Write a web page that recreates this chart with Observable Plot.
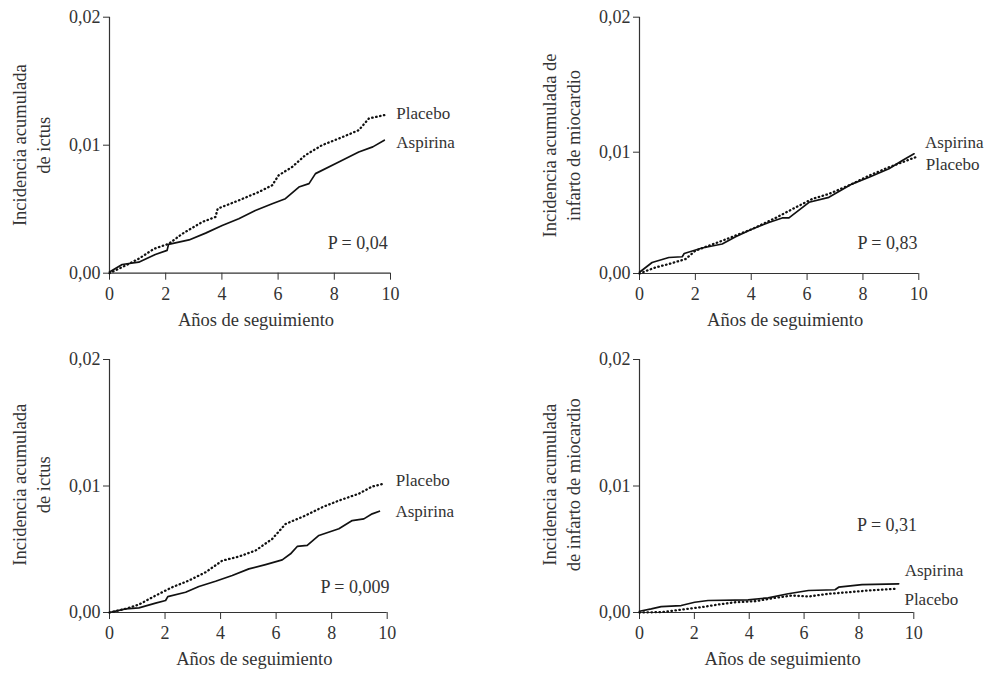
<!DOCTYPE html>
<html>
<head>
<meta charset="utf-8">
<script src="https://cdn.jsdelivr.net/npm/d3@7"></script>
<script src="https://cdn.jsdelivr.net/npm/@observablehq/plot@0.6"></script>
<style>
  html, body { margin: 0; padding: 0; background: #fff; }
  #wrap { position: relative; width: 984px; height: 674px; overflow: hidden; background: #fff; }
  #wrap > svg { position: absolute; }
</style>
</head>
<body>
<div id="wrap"></div>
<script>
// ---------- Data ----------
const xTicks = [0, 2, 4, 6, 8, 10];
const yTicks = [0, 0.01, 0.02];
const seriesNames = ["Aspirina", "Placebo"];
const xTitle = "Años de seguimiento";

// Panel 1: ictus (top-left)
const p1Title = "Incidencia acumulada\nde ictus";
const p1AspYears = [0, 0.45, 1.04, 1.63, 2.05, 2.1, 2.83, 3.42, 4.01, 4.6, 5.19, 5.79, 6.26, 6.74, 7.1, 7.33, 8.16, 8.87, 9.37, 9.78];
const p1AspInc   = [0.0001, 0.00068, 0.00086, 0.00146, 0.00178, 0.00225, 0.0026, 0.00313, 0.00373, 0.00426, 0.0049, 0.00543, 0.00582, 0.00673, 0.007, 0.00778, 0.00869, 0.00947, 0.00987, 0.01039];
const p1PlaYears = [0, 0.57, 1.04, 1.58, 2.11, 2.59, 3.3, 3.77, 3.85, 4.6, 5.31, 5.79, 6.02, 6.5, 6.97, 7.56, 8.16, 8.87, 9.23, 9.78];
const p1PlaInc   = [0, 0.0006, 0.00113, 0.0019, 0.0023, 0.00308, 0.004, 0.00439, 0.00504, 0.00569, 0.00634, 0.00687, 0.00765, 0.0083, 0.00922, 0.01, 0.01052, 0.01117, 0.01209, 0.01235];
const p1P = "P = 0,04";

// Panel 2: infarto de miocardio (top-right)
const p2Title = "Incidencia acumulada de\ninfarto de miocardio";
const p2AspYears = [0, 0.45, 1.05, 1.53, 1.6, 2.24, 2.96, 3.44, 4.04, 4.63, 5.11, 5.35, 6.07, 6.78, 7.62, 8.22, 8.93, 9.41, 9.83];
const p2AspInc   = [0.0001, 0.00091, 0.00132, 0.00138, 0.00165, 0.0021, 0.00243, 0.00303, 0.00367, 0.00421, 0.00458, 0.00458, 0.00587, 0.00628, 0.00739, 0.00793, 0.00863, 0.00931, 0.00987];
const p2PlaYears = [0, 0.57, 1.05, 1.65, 2.0, 2.96, 4.04, 4.87, 5.59, 6.19, 6.78, 7.62, 8.22, 8.93, 9.41, 9.89];
const p2PlaInc   = [0, 0.0005, 0.00078, 0.00119, 0.00188, 0.0027, 0.00367, 0.00458, 0.00545, 0.00615, 0.00656, 0.00739, 0.00807, 0.00876, 0.00917, 0.00959];
const p2P = "P = 0,83";

// Panel 3: ictus (bottom-left)
const p3Title = "Incidencia acumulada\nde ictus";
const p3AspYears = [0, 0.58, 1.06, 1.66, 2.02, 2.1, 2.74, 3.22, 3.82, 4.42, 5.02, 5.62, 6.22, 6.52, 6.76, 7.12, 7.54, 8.26, 8.74, 9.16, 9.46, 9.72];
const p3AspInc   = [0, 0.00029, 0.00037, 0.00074, 0.00095, 0.00126, 0.0016, 0.00206, 0.00247, 0.00292, 0.00345, 0.00379, 0.00416, 0.00464, 0.00522, 0.0053, 0.00609, 0.00662, 0.00727, 0.0074, 0.0078, 0.00801];
const p3PlaYears = [0, 0.58, 1.06, 1.66, 2.26, 2.86, 3.46, 4.06, 4.66, 5.26, 5.86, 6.34, 7.06, 7.66, 8.26, 8.97, 9.46, 9.88];
const p3PlaInc   = [0, 0.00029, 0.00063, 0.00134, 0.002, 0.00253, 0.00318, 0.0041, 0.00442, 0.0049, 0.00582, 0.007, 0.00767, 0.00832, 0.00885, 0.00938, 0.00996, 0.01018];
const p3P = "P = 0,009";

// Panel 4: infarto de miocardio (bottom-right)
const p4Title = "Incidencia acumulada\nde infarto de miocardio";
const p4AspYears = [0, 0.43, 0.79, 1.52, 2.01, 2.5, 3.96, 4.69, 5.42, 6.16, 7.13, 7.26, 8.11, 9.45];
const p4AspInc   = [0.0001, 0.00029, 0.00047, 0.00055, 0.00081, 0.00095, 0.001, 0.00116, 0.00148, 0.00174, 0.0018, 0.002, 0.00221, 0.00227];
const p4PlaYears = [0, 0.8, 1.28, 1.77, 2.26, 2.87, 3.48, 4.21, 4.94, 5.55, 6.16, 6.89, 7.62, 8.35, 9.33];
const p4PlaInc   = [0, 0.00003, 0.00016, 0.00029, 0.00042, 0.00063, 0.00081, 0.00089, 0.00116, 0.00134, 0.00126, 0.00148, 0.0016, 0.00174, 0.00187];
const p4P = "P = 0,31";

// ---------- Font: pick the first installed serif face ----------
function pickFont(cands) {
  const ctx = document.createElement("canvas").getContext("2d");
  const s = "Incidencia acumulada 0,01 Años de seguimiento";
  const w = f => { ctx.font = "40px " + f; return ctx.measureText(s).width; };
  for (const c of cands) {
    if (w('"' + c + '", monospace') === w('"' + c + '", sans-serif')) return '"' + c + '", serif';
  }
  return "serif";
}
const FONT = pickFont(["Liberation Serif", "Tinos", "Times New Roman", "Times", "DejaVu Serif", "Noto Serif", "FreeSerif", "Nimbus Roman", "Georgia"]);
const css = document.createElement("style");
css.textContent = "#wrap svg, #wrap svg text, #wrap svg tspan { font-family: " + FONT + " !important; }";
document.head.appendChild(css);

// ---------- Rendering ----------
const W = 492, H = 337;
const INK = "#333";
const fmt = d => d.toFixed(2).replace(".", ",");
const zip = (xs, ys) => xs.map((x, i) => ({x, y: ys[i]}));

// top-right panel of the source has its 0,01 tick slightly below the midpoint
const p2Warp = v => v <= 0.01 ? v * (121.3 / 128.15) : (121.3 + (v - 0.01) * 13500) / 12815;

function panel(c) {
  const asp = zip(c.aspX, c.aspY);
  const pla = zip(c.plaX, c.plaY);
  const pxPerYear = (c.x1 - c.x0) / 10;
  const titleX = -79 / pxPerYear;
  const axisTicks = c.warp ? yTicks.map(c.warp) : yTicks;
  return Plot.plot({
    width: W, height: H,
    marginLeft: c.x0, marginRight: W - c.x1,
    marginTop: c.yTop, marginBottom: H - c.yBottom,
    style: {color: INK, background: "transparent", overflow: "visible"},
    x: {domain: [0, 10], range: [c.x0, c.x1]},
    y: Object.assign({domain: [0, 0.02], range: [c.yBottom, c.yTop]}, c.warp ? {transform: c.warp} : {}),
    marks: [
      Plot.axisX({ticks: xTicks, tickSize: 7, tickPadding: 7, fontSize: 18, label: null, stroke: INK, fill: INK}),
      Plot.axisY({ticks: axisTicks, tickFormat: fmt, tickSize: 6, tickPadding: 3, fontSize: 18, label: null, stroke: INK, fill: INK}),
      Plot.ruleX([0], {y1: 0, y2: 0.02, stroke: INK, strokeWidth: 1.2}),
      Plot.ruleY([0], {x1: 0, x2: 10, stroke: INK, strokeWidth: 1.2}),
      Plot.line(pla, {x: "x", y: "y", stroke: "#111", strokeWidth: 2.3, strokeDasharray: "0.5,3.5", strokeLinecap: "round"}),
      Plot.line(asp, {x: "x", y: "y", stroke: "#111", strokeWidth: 1.7}),
      Plot.text([asp[asp.length - 1]], {x: "x", y: "y", text: () => seriesNames[0], textAnchor: "start", dx: c.aspDx, dy: c.aspDy, fontSize: 17, fill: INK}),
      Plot.text([pla[pla.length - 1]], {x: "x", y: "y", text: () => seriesNames[1], textAnchor: "start", dx: c.plaDx, dy: c.plaDy, fontSize: 17, fill: INK}),
      Plot.text([c.p], {x: c.px, y: c.py, text: d => d, textAnchor: "end", fontSize: 18, fill: INK}),
      Plot.text([c.title], {x: titleX, y: c.titleY, text: d => d, rotate: -90, lineHeight: 1.3, fontSize: 18.5, fill: INK}),
      Plot.text([xTitle], {frameAnchor: "bottom", dx: 6, dy: 52.5, fontSize: 18.5, fill: INK})
    ]
  });
}

const panels = [
  {left: 0, top: 0, x0: 109, x1: 390, yTop: 16.7, yBottom: 272.7,
   aspX: p1AspYears, aspY: p1AspInc, plaX: p1PlaYears, plaY: p1PlaInc, title: p1Title, titleY: 0.01, p: p1P,
   px: 9.9, py: 0.00232, aspDx: 12, aspDy: 2, plaDx: 12, plaDy: -2},
  {left: 492, top: 0, x0: 147, x1: 426.3, yTop: 16.7, yBottom: 273, warp: p2Warp,
   aspX: p2AspYears, aspY: p2AspInc, plaX: p2PlaYears, plaY: p2PlaInc, title: p2Title, titleY: 0.0105, p: p2P,
   px: 9.95, py: 0.00247, aspDx: 11, aspDy: -11, plaDx: 10, plaDy: 7},
  {left: 0, top: 337, x0: 109, x1: 386.7, yTop: 22, yBottom: 275,
   aspX: p3AspYears, aspY: p3AspInc, plaX: p3PlaYears, plaY: p3PlaInc, title: p3Title, titleY: 0.0101, p: p3P,
   px: 10.08, py: 0.002, aspDx: 16, aspDy: 0, plaDx: 12, plaDy: -3},
  {left: 492, top: 337, x0: 147, x1: 421.3, yTop: 22, yBottom: 275,
   aspX: p4AspYears, aspY: p4AspInc, plaX: p4PlaYears, plaY: p4PlaInc, title: p4Title, titleY: 0.0101, p: p4P,
   px: 10.12, py: 0.0069, aspDx: 6, aspDy: -13, plaDx: 9, plaDy: 11}
];

const wrap = document.getElementById("wrap");
for (const c of panels) {
  const svg = panel(c);
  svg.style.left = c.left + "px";
  svg.style.top = c.top + "px";
  wrap.appendChild(svg);
}
</script>
</body>
</html>
